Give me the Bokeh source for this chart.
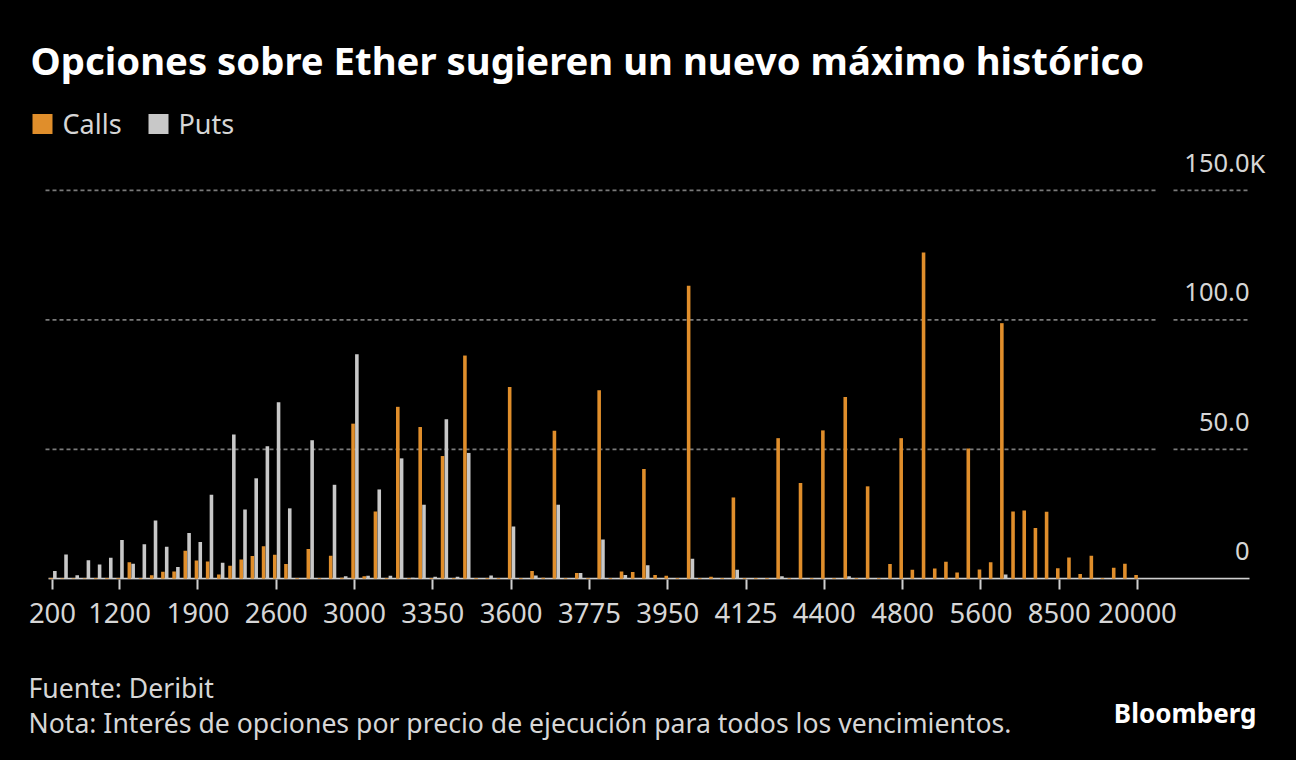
from bokeh.plotting import figure
from bokeh.models import Range1d, FixedTicker, ColumnDataSource
from bokeh.layouts import column
from bokeh.transform import dodge
from bokeh.embed import file_html
from bokeh.resources import INLINE
from bokeh.core.properties import value

# ---------------- data ----------------
strikes = [200, 400, 500, 600, 800, 1000, 1200, 1300, 1400, 1500, 1600, 1700, 1800, 1900,
           2000, 2100, 2200, 2300, 2400, 2500, 2600, 2700, 2750, 2800, 2850, 2900, 2950,
           3000, 3050, 3100, 3150, 3200, 3250, 3300, 3350, 3400, 3450, 3500, 3525, 3550,
           3575, 3600, 3625, 3650, 3675, 3700, 3725, 3750, 3775, 3800, 3825, 3850, 3875,
           3900, 3925, 3950, 3975, 4000, 4025, 4050, 4075, 4100, 4125, 4150, 4175, 4200,
           4250, 4300, 4350, 4400, 4450, 4500, 4550, 4600, 4650, 4700, 4800, 4900, 5000,
           5100, 5200, 5400, 5500, 5600, 5800, 6000, 6500, 7000, 7500, 8000, 8500, 9000,
           9500, 10000, 12000, 15000, 18000, 20000]

calls = [0.3, 0.2, 0.2, 0.2, 0.3, 0.3, 0.3, 6.4, 0.3, 1.4, 2.7, 2.8, 10.8, 7.1,
         6.7, 1.7, 5.0, 7.5, 8.8, 12.6, 9.3, 5.7, 0.3, 11.5, 0.3, 8.9, 0.4,
         59.9, 1.0, 26.0, 0.3, 66.4, 0.3, 58.6, 0.3, 47.4, 0.3, 86.2, 0.3, 0.3,
         0.3, 74.1, 0.3, 3.0, 0.4, 57.2, 0.3, 2.2, 0.3, 72.8, 0.3, 2.8, 2.6,
         42.4, 1.5, 1.2, 0.3, 113.1, 0.3, 0.8, 0.3, 31.4, 0.3, 0.3, 0.3, 54.3,
         0.3, 37.0, 0.3, 57.3, 0.3, 70.2, 0.3, 35.7, 0.3, 5.7, 54.3, 3.5, 126.0,
         4.0, 6.6, 2.4, 50.3, 3.6, 6.4, 98.7, 26.0, 26.4, 19.6, 25.9, 4.1, 8.2,
         1.9, 8.9, 0.3, 4.3, 5.8, 1.5]

puts = [3.0, 9.4, 1.4, 7.2, 5.5, 8.1, 15.0, 5.8, 13.3, 22.5, 12.4, 4.6, 17.7, 14.2,
        32.5, 6.2, 55.7, 26.8, 38.8, 51.2, 68.2, 27.2, 0.3, 53.5, 0.3, 36.3, 1.0,
        86.7, 1.2, 34.5, 1.2, 46.5, 0.4, 28.6, 0.8, 61.6, 0.8, 48.6, 0.3, 1.3,
        0.3, 20.2, 0.3, 1.3, 0.3, 28.6, 0.3, 2.2, 0.3, 15.2, 0.3, 1.5, 0.3,
        5.2, 0.3, 0.3, 0.3, 7.7, 0.3, 0.3, 0.3, 3.5, 0.2, 0.2, 0.2, 1.0,
        0.2, 0.2, 0.2, 0.2, 0.2, 1.0, 0.2, 0.2, 0.2, 0.2, 0.2, 0.2, 0.2,
        0.2, 0.2, 0.2, 0.2, 0.2, 0.2, 1.7, 0.2, 0.2, 0.2, 0.2, 0.2, 0.2,
        0.2, 0.2, 0.2, 0.2, 0.2, 0.2]

xtick_labels = ["200", "1200", "1900", "2600", "3000", "3350", "3600", "3775",
                "3950", "4125", "4400", "4800", "5600", "8500", "20000"]
ytick_values = [0, 50, 100, 150]
ytick_labels = ["0", "50.0", "100.0", "150.0"]
ytick_suffix = ["", "", "", "K"]

series_names = ["Calls", "Puts"]
title_text = "Opciones sobre Ether sugieren un nuevo máximo histórico"
source_text = "Fuente: Deribit"
note_text = "Nota: Interés de opciones por precio de ejecución para todos los vencimientos."
brand_text = "Bloomberg"

# ---------------- styles / layout ----------------
ORANGE = "#e08e2b"
GREY = "#c8c8c8"
TXT = "#d6d6d6"
FONT = value("Noto Sans")

W = 1280
H_MAIN = 640
H_FOOT = 104
ORIGIN = 0          # page offset of the layout (measured)
BOTTOM_BORDER = 61
SHIFT = 0.41        # measured baseline correction (em) for text glyphs

X0_PX = 52.0      # page x of first category
PITCH = 11.186    # px per category
Y0_PX = 578.3     # page y of value 0
KPX = 2.59        # px per thousand


def dx(px):
    return (px - X0_PX) / PITCH


def dy(py):
    return (Y0_PX - py) / KPX


def base(py, size):
    # page y of a wanted baseline -> data y for an 'alphabetic' text glyph
    return dy(py - SHIFT * size)


frame_bottom_page = ORIGIN + H_MAIN - BOTTOM_BORDER

p = figure(width=W, height=H_MAIN, output_backend="svg", toolbar_location=None, tools="",
           x_range=Range1d(dx(ORIGIN), dx(ORIGIN + W)),
           y_range=Range1d(dy(frame_bottom_page), dy(ORIGIN)),
           y_axis_location=None,
           min_border_left=0, min_border_right=0, min_border_top=0,
           min_border_bottom=BOTTOM_BORDER)
p.background_fill_color = "black"
p.border_fill_color = "black"
p.outline_line_color = None
p.grid.visible = False

idx = list(range(len(strikes)))
src = ColumnDataSource(dict(idx=idx, calls=calls, puts=puts))

# gridlines (dashed, with a small gap near the right)
gy = [v for v in ytick_values if v > 0]
p.segment(x0=[dx(45)] * len(gy), x1=[dx(1157)] * len(gy), y0=gy, y1=gy,
          line_color="#7a7a7a", line_width=1.8, line_dash="4 3")
p.segment(x0=[dx(1173)] * len(gy), x1=[dx(1248)] * len(gy), y0=gy, y1=gy,
          line_color="#7a7a7a", line_width=1.8, line_dash="4 3")

# baseline
p.segment(x0=[dx(48)], x1=[dx(1249)], y0=[0], y1=[0], line_color="#cfcfcf", line_width=2)

# bars
BW = 0.32
p.vbar(x=dodge("idx", -0.13, range=p.x_range), top="calls", bottom=0, width=BW,
       source=src, fill_color=ORANGE, line_color=None)
p.vbar(x=dodge("idx", 0.21, range=p.x_range), top="puts", bottom=0, width=BW,
       source=src, fill_color=GREY, line_color=None)

# y labels (above gridlines, right aligned)
YL = 25.5
yoff = -17 - SHIFT * YL
p.text(x=[dx(1249)] * len(ytick_values), y=ytick_values, text=ytick_labels,
       text_align="right", text_baseline="alphabetic", y_offset=yoff,
       text_font=FONT, text_font_size=f"{YL}px", text_color=TXT)
suf_y = [v for v, s in zip(ytick_values, ytick_suffix) if s]
suf_t = [s for s in ytick_suffix if s]
p.text(x=[dx(1249)] * len(suf_y), y=suf_y, text=suf_t,
       text_align="left", text_baseline="alphabetic", y_offset=yoff,
       text_font=FONT, text_font_size=f"{YL}px", text_color=TXT)

# title
TS = 38.3
p.text(x=[dx(30)], y=[base(75, TS)], text=[title_text], text_font=FONT, text_font_style="bold",
       text_font_size=f"{TS}px", text_color="white", text_baseline="alphabetic")

# legend
LS = 27
p.rect(x=[dx(42), dx(158)], y=[dy(123.5), dy(123.5)], width=20, height=20,
       width_units="screen", height_units="screen", fill_color=[ORANGE, GREY], line_color=None)
p.text(x=[dx(62), dx(178)], y=[base(134, LS)] * 2, text=series_names, text_font=FONT,
       text_font_size=f"{LS}px", text_color=TXT, text_baseline="alphabetic")

# x axis
tick_idx = [strikes.index(int(s)) for s in xtick_labels]
ax = p.xaxis[0]
ax.ticker = FixedTicker(ticks=tick_idx)
ax.major_label_overrides = {i: s for i, s in zip(tick_idx, xtick_labels)}
ax.axis_line_color = None
ax.major_tick_out = 10
ax.major_tick_in = 0
ax.major_tick_line_color = "#cfcfcf"
ax.major_tick_line_width = 2
ax.minor_tick_line_color = None
ax.major_label_standoff = 13
ax.major_label_text_font = "Noto Sans"
ax.major_label_text_font_size = "27.5px"
ax.major_label_text_color = TXT

# ---------------- footer ----------------
f = figure(width=W, height=H_FOOT, output_backend="svg", toolbar_location=None, tools="",
           x_range=Range1d(0, W), y_range=Range1d(H_FOOT, 0),
           x_axis_location=None, y_axis_location=None,
           min_border_left=0, min_border_right=0, min_border_top=0, min_border_bottom=0)
f.background_fill_color = "black"
f.border_fill_color = "black"
f.outline_line_color = None
f.grid.visible = False
FOOT_TOP = ORIGIN + H_MAIN


def fx(px):
    return px - ORIGIN


def fbase(py, size):
    return py - SHIFT * size - FOOT_TOP


FS = 26.6
BS = 26
f.text(x=[fx(28), fx(28)], y=[fbase(698, FS), fbase(733, FS)], text=[source_text, note_text],
       text_font=FONT, text_font_size=f"{FS}px", text_color=TXT, text_baseline="alphabetic")
f.text(x=[fx(1256)], y=[fbase(723, BS)], text=[brand_text], text_font=FONT,
       text_font_style="bold", text_font_size=f"{BS}px", text_color="white",
       text_align="right", text_baseline="alphabetic")

layout = column(p, f, spacing=0)
html = file_html(layout, INLINE, title="Opciones sobre Ether")
html = html.replace("</head>", "<style>html,body{background:#000000;}</style></head>", 1)
open("out.html", "w").write(html)
